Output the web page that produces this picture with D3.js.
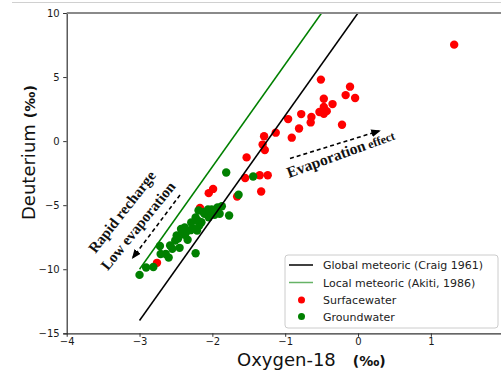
<!DOCTYPE html>
<html>
<head>
<meta charset="utf-8">
<script src="https://cdn.jsdelivr.net/npm/d3@7"></script>
<style>
  body { margin: 0; background: #fff; }
  svg { display: block; font-family: "DejaVu Sans", sans-serif; }
</style>
</head>
<body>
<svg width="501" height="370"></svg>
<script>
// values (delta O-18 / delta D, permil)
const surfaceO18 = [1.32, -0.51, -0.11, -0.17, -0.04, -0.47, -0.35, -0.47, -0.53, -0.43, -0.47, -0.22,
    -0.64, -0.65, -0.78, -0.81, -0.96, -0.91, -1.13, -1.29, -1.31, -1.28, -1.53, -1.55, -1.35, -1.24,
    -1.33, -1.66, -1.99, -2.05, -2.17, -2.76];
const surfaceD = [7.53, 4.80, 4.25, 3.59, 3.36, 3.31, 2.89, 2.66, 2.27, 2.34, 2.14, 1.28,
    1.88, 1.46, 2.11, 0.99, 1.72, 0.27, 0.66, 0.38, -0.27, -0.69, -1.27, -2.88, -2.66, -2.66,
    -3.93, -4.32, -3.73, -4.06, -5.22, -9.50];

const groundO18 = [-3.00, -2.91, -2.81, -2.71, -2.72, -2.64, -2.60, -2.58, -2.51, -2.45, -2.49, -2.43,
    -2.38, -2.34, -2.38, -2.29, -2.23, -2.23, -2.19, -2.18, -2.15, -2.12, -2.11, -2.06, -2.03, -1.97,
    -1.95, -1.90, -1.87, -1.77, -1.64, -1.81, -1.44, -2.41, -2.27, -2.21, -2.01, -1.93, -2.36,
    -2.30, -2.20, -2.05, -2.47, -2.55];
const groundD = [-10.44, -9.87, -9.83, -8.81, -8.19, -8.81, -9.09, -8.15, -7.76, -8.33, -7.37, -6.86,
    -7.31, -7.70, -6.74, -6.35, -5.96, -8.75, -5.41, -6.59, -6.33, -5.55, -5.67, -5.34, -5.67, -5.75,
    -5.55, -5.67, -5.08, -5.80, -4.19, -2.45, -2.76, -7.05, -6.82, -6.98, -5.34, -5.18, -7.11,
    -6.95, -6.20, -5.95, -7.60, -8.40];

// meteoric water lines (end points)
const globalO18 = [-3, 0];
const globalD = [-14, 10];
const localO18 = [-3, -0.5];
const localD = [-10, 10];

const xTicks = [-4, -3, -2, -1, 0, 1];
const yTicks = [-15, -10, -5, 0, 5, 10];

const legendLabels = ["Global meteoric (Craig 1961)", "Local meteoric (Akiti, 1986)", "Surfacewater", "Groundwater"];

const svg = d3.select("svg");

const x = d3.scaleLinear().domain([-4, 2]).range([66.7, 503.7]);
const y = d3.scaleLinear().domain([-15, 10]).range([333.3, 13]);

// faint frame line from the screenshot
svg.append("line")
    .attr("x1", 12).attr("x2", 501)
    .attr("y1", 2.5).attr("y2", 2.5)
    .style("stroke", "#d0d0d0")
    .style("stroke-width", 1);

// points
svg.append("g")
    .selectAll("circle")
    .data(surfaceO18.map((v, i) => [v, surfaceD[i]]))
    .enter()
    .append("circle")
    .attr("cx", d => x(d[0]))
    .attr("cy", d => y(d[1]))
    .attr("r", 4.2)
    .style("fill", "#ff0000");

svg.append("g")
    .selectAll("circle")
    .data(groundO18.map((v, i) => [v, groundD[i]]))
    .enter()
    .append("circle")
    .attr("cx", d => x(d[0]))
    .attr("cy", d => y(d[1]))
    .attr("r", 4.2)
    .style("fill", "#008000");

// lines
const line = d3.line().x(d => x(d[0])).y(d => y(d[1]));

svg.append("path")
    .attr("d", line(globalO18.map((v, i) => [v, globalD[i]])))
    .style("fill", "none")
    .style("stroke", "#000")
    .style("stroke-width", 1.5);

svg.append("path")
    .attr("d", line(localO18.map((v, i) => [v, localD[i]])))
    .style("fill", "none")
    .style("stroke", "#008000")
    .style("stroke-width", 1.5);

// axes
const xAxis = svg.append("g")
    .attr("transform", "translate(0,333.3)")
    .call(d3.axisBottom(x).tickValues(xTicks).tickSize(3.5).tickPadding(1.5).tickFormat(d3.format("")));

const yAxis = svg.append("g")
    .attr("transform", "translate(66.7,0)")
    .call(d3.axisLeft(y).tickValues(yTicks).tickSize(3.5).tickPadding(3.5).tickFormat(d3.format("")));

[xAxis, yAxis].forEach(g => {
    g.select(".domain").style("stroke", "#333").style("stroke-width", 1.2);
    g.selectAll(".tick line").style("stroke", "#333").style("stroke-width", 1);
    g.selectAll(".tick text")
        .style("font-family", "DejaVu Sans")
        .style("font-size", "10px")
        .style("fill", "#1a1a1a");
});
xAxis.select(".domain").attr("d", "M66.7,0.5H501");

// top spine
svg.append("line")
    .attr("x1", 66.7).attr("x2", 501)
    .attr("y1", 13).attr("y2", 13)
    .style("stroke", "#8a8a8a")
    .style("stroke-width", 2);

// axis titles
svg.append("text")
    .attr("x", 237)
    .attr("y", 366)
    .style("font-size", "18px")
    .style("fill", "#111")
    .text("Oxygen-18")
    .append("tspan")
    .attr("dx", 17)
    .style("font-size", "14px")
    .style("font-weight", "bold")
    .text("(‰)");

svg.append("text")
    .attr("transform", "translate(35,220) rotate(-90)")
    .style("font-size", "18px")
    .style("fill", "#111")
    .text("Deuterium")
    .append("tspan")
    .attr("dx", 6)
    .style("font-size", "14px")
    .style("font-weight", "bold")
    .text("(‰)");

// annotations
const defs = svg.append("defs");
defs.append("marker")
    .attr("id", "arrow")
    .attr("viewBox", "0 0 10 10")
    .attr("refX", 8).attr("refY", 5)
    .attr("markerWidth", 6).attr("markerHeight", 6)
    .attr("orient", "auto")
    .append("path")
    .attr("d", "M0,1L10,5L0,9Z")
    .style("fill", "#000");

svg.append("line")
    .attr("x1", 290).attr("y1", 158.5)
    .attr("x2", 379).attr("y2", 131)
    .style("stroke", "#000")
    .style("stroke-width", 1.6)
    .style("stroke-dasharray", "4,3")
    .attr("marker-end", "url(#arrow)");

svg.append("text")
    .attr("transform", "translate(289,178) rotate(-20)")
    .style("font-family", "Liberation Serif")
    .style("font-weight", "bold")
    .style("font-size", "15.5px")
    .style("fill", "#111")
    .text("Evaporation")
    .append("tspan")
    .attr("dx", 3)
    .style("font-size", "12px")
    .text("effect");

svg.append("line")
    .attr("x1", 180).attr("y1", 195)
    .attr("x2", 133).attr("y2", 257.5)
    .style("stroke", "#000")
    .style("stroke-width", 1.6)
    .style("stroke-dasharray", "4,3")
    .attr("marker-end", "url(#arrow)");

svg.append("text")
    .attr("transform", "translate(126,215) rotate(-52)")
    .attr("text-anchor", "middle")
    .style("font-family", "Liberation Serif")
    .style("font-weight", "bold")
    .style("font-size", "15px")
    .style("fill", "#111")
    .text("Rapid recharge");

svg.append("text")
    .attr("transform", "translate(142,229) rotate(-51)")
    .attr("text-anchor", "middle")
    .style("font-family", "Liberation Serif")
    .style("font-weight", "bold")
    .style("font-size", "15px")
    .style("fill", "#111")
    .text("Low evaporation");

// legend
const legend = svg.append("g");
legend.append("rect")
    .attr("x", 285).attr("y", 255)
    .attr("width", 213).attr("height", 73)
    .attr("rx", 3)
    .style("fill", "#fff")
    .style("fill-opacity", 0.85)
    .style("stroke", "#cccccc");

const rowY = [265, 282.5, 300, 316.5];
legend.append("line")
    .attr("x1", 289).attr("x2", 313).attr("y1", rowY[0]).attr("y2", rowY[0])
    .style("stroke", "#000").style("stroke-width", 1.5);
legend.append("line")
    .attr("x1", 289).attr("x2", 313).attr("y1", rowY[1]).attr("y2", rowY[1])
    .style("stroke", "#008000").style("stroke-opacity", 0.6).style("stroke-width", 1.5);
legend.append("circle").attr("cx", 301.5).attr("cy", rowY[2]).attr("r", 3.5).style("fill", "#ff0000");
legend.append("circle").attr("cx", 301.5).attr("cy", rowY[3]).attr("r", 3.5).style("fill", "#008000");

legend.selectAll("text")
    .data(legendLabels)
    .enter()
    .append("text")
    .attr("x", 323)
    .attr("y", (d, i) => rowY[i] + 4)
    .style("font-size", "11px")
    .style("fill", "#222")
    .text(d => d);
</script>
</body>
</html>
